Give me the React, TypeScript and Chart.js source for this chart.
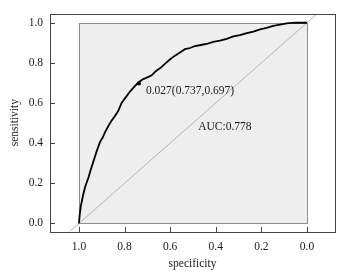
import React, { useEffect, useRef } from 'react';
import { Chart, registerables } from 'chart.js';

Chart.register(...registerables);

// ROC curve
const specificity = [
  1.0, 0.997, 0.992, 0.986, 0.981, 0.972, 0.959, 0.948, 0.937, 0.922, 0.908, 0.896, 0.886, 0.871,
  0.857, 0.842, 0.828, 0.813, 0.795, 0.776, 0.758, 0.740, 0.720, 0.700, 0.681, 0.662, 0.642, 0.623,
  0.600, 0.579, 0.557, 0.535, 0.513, 0.491, 0.466, 0.440, 0.411, 0.382, 0.352, 0.323, 0.294, 0.264,
  0.235, 0.206, 0.177, 0.148, 0.118, 0.089, 0.066, 0.045, 0.020, 0.0,
];
const sensitivity = [
  0.0, 0.040, 0.085, 0.118, 0.145, 0.185, 0.226, 0.268, 0.307, 0.360, 0.405, 0.428, 0.454, 0.485,
  0.512, 0.535, 0.560, 0.600, 0.628, 0.657, 0.680, 0.702, 0.718, 0.728, 0.738, 0.760, 0.775, 0.795,
  0.818, 0.836, 0.852, 0.868, 0.874, 0.884, 0.889, 0.894, 0.905, 0.911, 0.920, 0.932, 0.938, 0.948,
  0.956, 0.967, 0.974, 0.984, 0.991, 0.997, 0.999, 1.0, 1.0, 1.0,
];
const cutoffSpec = [0.737];
const cutoffSens = [0.697];
const diagSpec = [1.3, -0.3];
const diagSens = [-0.3, 1.3];
const xTickValues = [1.0, 0.8, 0.6, 0.4, 0.2, 0.0];
const yTickValues = [0.0, 0.2, 0.4, 0.6, 0.8, 1.0];
const labelTexts = ['0.027(0.737,0.697)', 'AUC:0.778'];
const labelSpec = [0.706, 0.477];
const labelSens = [0.662, 0.48];

const FONT = "'Liberation Serif', 'DejaVu Serif', serif";

const framePlugin = {
  id: 'framePlugin',
  beforeDatasetsDraw(chart: any) {
    const { ctx, scales } = chart;
    const xs = scales.x;
    const ys = scales.y;
    const x1 = Math.round(xs.getPixelForValue(1));
    const x2 = Math.round(xs.getPixelForValue(0));
    const y1 = Math.round(ys.getPixelForValue(1));
    const y2 = Math.round(ys.getPixelForValue(0));
    ctx.save();
    ctx.fillStyle = '#eeeeee';
    ctx.fillRect(x1, y1, x2 - x1, y2 - y1);
    ctx.strokeStyle = '#8c8c8c';
    ctx.lineWidth = 1;
    ctx.strokeRect(x1 + 0.5, y1 + 0.5, x2 - x1, y2 - y1);
    ctx.restore();
  },
  afterDatasetsDraw(chart: any) {
    const { ctx, scales, chartArea } = chart;
    const xs = scales.x;
    const ys = scales.y;
    const l = Math.round(chartArea.left);
    const r = Math.round(chartArea.right);
    const t = Math.round(chartArea.top);
    const b = Math.round(chartArea.bottom);
    ctx.save();
    ctx.strokeStyle = '#444444';
    ctx.lineWidth = 1;
    ctx.strokeRect(l + 0.5, t + 0.5, r - l, b - t);
    ctx.beginPath();
    xTickValues.forEach((v) => {
      const px = Math.round(xs.getPixelForValue(v)) + 0.5;
      ctx.moveTo(px, b);
      ctx.lineTo(px, b - 5);
    });
    yTickValues.forEach((v) => {
      const py = Math.round(ys.getPixelForValue(v)) + 0.5;
      ctx.moveTo(l, py);
      ctx.lineTo(l + 5, py);
    });
    ctx.stroke();
    ctx.fillStyle = '#1a1a1a';
    ctx.font = `11.5px ${FONT}`;
    ctx.textAlign = 'left';
    ctx.textBaseline = 'middle';
    labelTexts.forEach((txt, i) => {
      ctx.fillText(txt, xs.getPixelForValue(labelSpec[i]), ys.getPixelForValue(labelSens[i]));
    });
    ctx.restore();
  },
};

export default function App() {
  const ref = useRef<HTMLCanvasElement | null>(null);
  useEffect(() => {
    document.body.style.margin = '0';
    const canvas = ref.current;
    if (!canvas) return;
    const chart = new Chart(canvas, {
      type: 'scatter',
      data: {
        datasets: [
          {
            data: cutoffSpec.map((s, i) => ({ x: s, y: cutoffSens[i] })),
            pointRadius: 2,
            pointBackgroundColor: '#000',
            pointBorderWidth: 0,
            showLine: false,
            order: 0,
          },
          {
            data: specificity.map((s, i) => ({ x: s, y: sensitivity[i] })),
            showLine: true,
            borderColor: '#000',
            borderWidth: 1.8,
            pointRadius: 0,
            tension: 0,
            order: 1,
          },
          {
            data: diagSpec.map((s, i) => ({ x: s, y: diagSens[i] })),
            showLine: true,
            borderColor: '#b4b4b4',
            borderWidth: 1,
            pointRadius: 0,
            order: 2,
          },
        ],
      },
      options: {
        animation: false,
        responsive: false,
        maintainAspectRatio: false,
        devicePixelRatio: 1,
        layout: { padding: { top: 9, right: 11, left: 0, bottom: 0 } },
        plugins: { legend: { display: false }, tooltip: { enabled: false } },
        scales: {
          x: {
            type: 'linear',
            reverse: true,
            min: -0.123,
            max: 1.127,
            afterBuildTicks: (scale: any) => {
              scale.ticks = xTickValues.map((v) => ({ value: v }));
            },
            afterFit: (scale: any) => {
              scale.height = 42.5;
            },
            grid: { display: false, drawTicks: false },
            border: { display: false },
            ticks: {
              padding: 9,
              color: '#1a1a1a',
              font: { family: FONT, size: 11.5 },
              callback: (v: any) => Number(v).toFixed(1),
              maxRotation: 0,
              autoSkip: false,
            },
            title: {
              display: true,
              text: 'specificity',
              color: '#1a1a1a',
              font: { family: FONT, size: 11.5 },
              padding: { top: 0, bottom: 3 },
            },
          },
          y: {
            type: 'linear',
            min: -0.0405,
            max: 1.044,
            afterBuildTicks: (scale: any) => {
              scale.ticks = yTickValues.map((v) => ({ value: v }));
            },
            afterFit: (scale: any) => {
              scale.width = 50;
            },
            grid: { display: false, drawTicks: false },
            border: { display: false },
            ticks: {
              padding: 7,
              color: '#1a1a1a',
              font: { family: FONT, size: 11.5 },
              callback: (v: any) => Number(v).toFixed(1),
              autoSkip: false,
            },
            title: {
              display: true,
              text: 'sensitivity',
              color: '#1a1a1a',
              font: { family: FONT, size: 11.5 },
              padding: { top: 8, bottom: 0 },
            },
          },
        },
      },
      plugins: [framePlugin],
    });
    return () => chart.destroy();
  }, []);
  return (
    <div style={{ width: 346, height: 274, position: 'relative', background: '#fff' }}>
      <canvas ref={ref} width={346} height={274} style={{ display: 'block' }} />
    </div>
  );
}
